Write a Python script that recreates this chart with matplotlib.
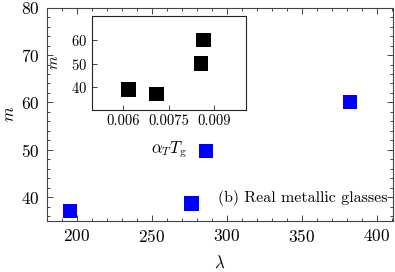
import matplotlib
matplotlib.use("Agg")
import matplotlib.pyplot as plt
from matplotlib.ticker import MultipleLocator

plt.rcParams['font.family'] = 'cmr10'
plt.rcParams['mathtext.fontset'] = 'cm'
plt.rcParams['axes.formatter.use_mathtext'] = True

# main panel: real metallic glasses
lam = [195.5, 276.7, 286.2, 382]
m_main = [37.1, 38.7, 49.8, 60.1]

# inset: alpha_T * T_g
aT_Tg = [0.00617, 0.0071, 0.00855, 0.00864]
m_inset = [38.85, 37.1, 50, 60]
inset_ticks = [0.006, 0.0075, 0.009]
inset_ticklabels = ["0.006", "0.0075", "0.009"]

frame_col = '#444444'

fig = plt.figure(figsize=(3.95, 2.72), dpi=100)
ax = fig.add_axes([0.118, 0.1875, 0.876, 0.7845])
ax.scatter(lam, m_main, marker='s', s=110, color='#0000ff', edgecolors='none', zorder=3)
ax.set_xlim(180, 410.5)
ax.set_ylim(35, 80)
ax.xaxis.set_major_locator(MultipleLocator(50))
ax.xaxis.set_minor_locator(MultipleLocator(10))
ax.yaxis.set_major_locator(MultipleLocator(10))
ax.yaxis.set_minor_locator(MultipleLocator(2))
ax.tick_params(which='both', direction='in', top=True, right=True,
               color=frame_col, width=0.7, labelsize=12.5, pad=5)
ax.tick_params(which='major', length=4.5)
ax.tick_params(which='minor', length=2.5)
for s in ax.spines.values():
    s.set_color(frame_col)
    s.set_linewidth(0.8)
ax.set_xlabel(r'$\lambda$', fontsize=12, labelpad=7)
ax.set_ylabel(r'$m$', fontsize=12, labelpad=3)
ax.text(0.985, 0.07, '(b) Real metallic glasses', transform=ax.transAxes,
        ha='right', va='bottom', fontsize=11.5)

ins = fig.add_axes([0.232, 0.596, 0.391, 0.345])
ins.scatter(aT_Tg, m_inset, marker='s', s=110, color='black', edgecolors='none', zorder=3)
ins.set_xlim(0.00496, 0.01004)
ins.set_ylim(30.3, 70.2)
ins.set_xticks(inset_ticks)
ins.set_xticklabels(inset_ticklabels)
ins.set_yticks([40, 50, 60])
ins.tick_params(direction='in', length=3.5, color=frame_col, width=0.7,
                labelsize=10.5, pad=3.5)
for s in ins.spines.values():
    s.set_color('#222222')
    s.set_linewidth(0.8)
ins.set_xlabel(r'$\alpha_T T_{\rm g}$', fontsize=12, labelpad=8)
ins.set_ylabel(r'$m$', fontsize=11, labelpad=7)

fig.savefig('out.png', dpi=100)
